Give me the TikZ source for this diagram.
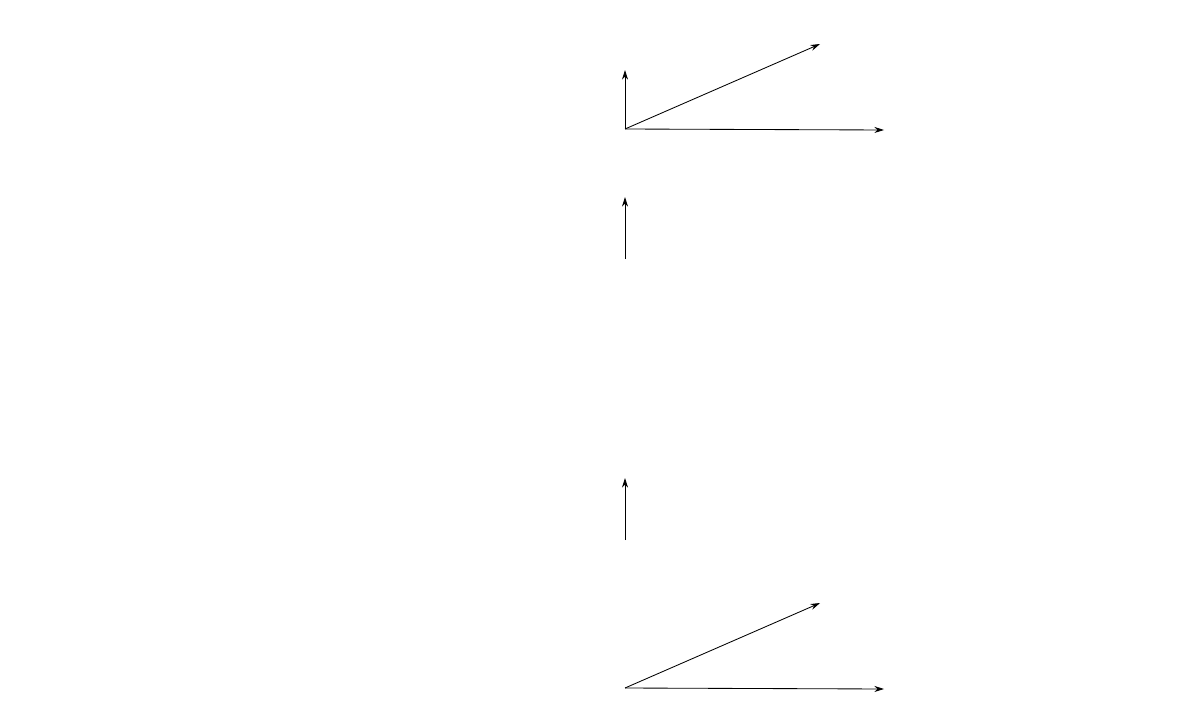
\documentclass[tikz,border=0pt]{standalone}
\usepackage{tikz}
\usetikzlibrary{arrows.meta}

\begin{document}
\begin{tikzpicture}[x=0.025cm,y=-0.025cm,
    vec/.style={line width=0.6pt,-{Stealth[length=2.4mm,width=1.5mm]}}]
    \useasboundingbox (0,0) rectangle (1177,716);

    % top frame
    \coordinate (oa) at (625,129);
    \coordinate (ua) at (625,70);
    \coordinate (da) at (820,44);
    \coordinate (xa) at (884,130);
    \draw[vec] (oa) -- (ua);
    \draw[vec] (oa) -- (da);
    \draw[vec] (oa) -- (xa);

    % single vectors
    \foreach \n/\y in {b/259, c/540} {
        \coordinate (o\n) at (625,\y);
        \coordinate (u\n) at (625,\y-62);
        \draw[vec] (o\n) -- (u\n);
    }

    % bottom frame
    \coordinate (od) at (625,688);
    \coordinate (dd) at (820,603);
    \coordinate (xd) at (884,689);
    \draw[vec] (od) -- (dd);
    \draw[vec] (od) -- (xd);
\end{tikzpicture}
\end{document}
